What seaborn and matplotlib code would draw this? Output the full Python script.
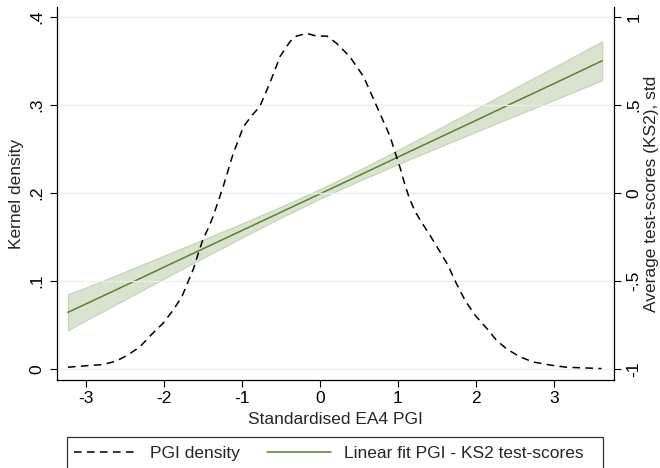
import matplotlib
matplotlib.use("Agg")
import matplotlib.pyplot as plt
from matplotlib.lines import Line2D
from matplotlib.patches import Rectangle
import seaborn as sns

# Kernel density of the standardised EA4 PGI
dens_x = [-3.23, -2.95, -2.78, -2.61, -2.46, -2.31, -2.16, -2.01, -1.88, -1.77,
          -1.69, -1.62, -1.56, -1.50, -1.43, -1.37, -1.24, -1.11, -0.98, -0.88,
          -0.77, -0.64, -0.51, -0.38, -0.30, -0.17, -0.04, 0.09, 0.21, 0.38,
          0.56, 0.73, 0.90, 0.96, 1.03, 1.09, 1.15, 1.22, 1.30, 1.41,
          1.54, 1.64, 1.75, 1.86, 1.99, 2.14, 2.26, 2.39, 2.56, 2.73,
          2.95, 3.16, 3.46, 3.61]
dens_y = [0.002, 0.004, 0.005, 0.009, 0.016, 0.025, 0.039, 0.052, 0.067, 0.082,
          0.099, 0.114, 0.131, 0.147, 0.160, 0.173, 0.207, 0.245, 0.275, 0.287,
          0.298, 0.325, 0.355, 0.372, 0.378, 0.381, 0.378, 0.378, 0.370, 0.355,
          0.332, 0.298, 0.264, 0.247, 0.228, 0.209, 0.193, 0.179, 0.167, 0.152,
          0.133, 0.118, 0.097, 0.078, 0.061, 0.046, 0.033, 0.023, 0.014, 0.008,
          0.0045, 0.002, 0.001, 0.0005]

# Linear fit of KS2 test-scores on the PGI, with 95% confidence band
fit_x = [-3.23, -3.0, -2.5, -2.0, -1.5, -1.0, -0.5, 0.0, 0.5, 1.0, 1.5, 2.0, 2.5, 3.0, 3.62]
fit_y = [-0.678, -0.631, -0.527, -0.422, -0.318, -0.214, -0.110, -0.006, 0.098,
         0.203, 0.307, 0.411, 0.516, 0.620, 0.750]
fit_lo = [-0.780, -0.724, -0.606, -0.487, -0.370, -0.254, -0.141, -0.033, 0.067,
          0.163, 0.255, 0.346, 0.437, 0.527, 0.640]
fit_hi = [-0.576, -0.538, -0.448, -0.357, -0.266, -0.174, -0.079, 0.021, 0.129,
          0.243, 0.359, 0.476, 0.595, 0.713, 0.860]

x_ticks = [-3, -2, -1, 0, 1, 2, 3]
left_ticks = [0, 0.1, 0.2, 0.3, 0.4]
left_labels = ["0", ".1", ".2", ".3", ".4"]
right_ticks = [-1, -0.5, 0, 0.5, 1]
right_labels = ["-1", "-.5", "0", ".5", "1"]

sns.set_style("ticks")
plt.rcParams["font.family"] = ["Liberation Sans", "DejaVu Sans"]
FS = 12.5

GREEN = "#5a8232"
BAND = "#d9e3cf"
BAND_EDGE = "#c3d2b3"
GRID = "#e6eef0"
DASH = (0, (5, 3.5))

W, H = 660, 468
fig = plt.figure(figsize=(W / 100, H / 100), dpi=100)
ax = fig.add_axes([57 / W, 1 - 380 / H, (614 - 57) / W, (380 - 7) / H])
ax2 = ax.twinx()

# fit + band on the secondary axis, drawn underneath
ax2.fill_between(fit_x, fit_lo, fit_hi, facecolor=BAND, edgecolor=BAND_EDGE, linewidth=0.8)
sns.lineplot(x=fit_x, y=fit_y, ax=ax2, color=GREEN, linewidth=1.1)

# density on the primary axis, on top
ax.set_zorder(ax2.get_zorder() + 1)
ax.patch.set_visible(False)
sns.lineplot(x=dens_x, y=dens_y, ax=ax, color="black", linewidth=1.1, linestyle=DASH)

ylo, yhi = -0.0125, 0.411
ax.set_ylim(ylo, yhi)
ax2.set_ylim(5 * ylo - 1, 5 * yhi - 1)
ax.set_xlim(-3.37, 3.77)

ax.set_xticks(x_ticks)
ax.set_xticklabels([str(t) for t in x_ticks])
ax.set_yticks(left_ticks)
ax.set_yticklabels(left_labels, rotation=90, va="center")
ax2.set_yticks(right_ticks)
ax2.set_yticklabels(right_labels, rotation=90, va="center")

for a in (ax, ax2):
    a.tick_params(axis="both", length=5, width=0.8, color="black", labelsize=FS,
                  labelcolor="black", pad=3)
    a.tick_params(axis="y", pad=4)
    a.grid(False)

for t in left_ticks:
    ax.axhline(t, color=GRID, linewidth=0.9, zorder=0)

for a in (ax, ax2):
    a.spines["top"].set_visible(False)
    for s in ("left", "right", "bottom"):
        a.spines[s].set_color("black")
        a.spines[s].set_linewidth(0.9)
ax.spines["right"].set_visible(False)
ax2.spines["left"].set_visible(False)
ax2.spines["bottom"].set_visible(False)

ax.set_xlabel("Standardised EA4 PGI", fontsize=FS, labelpad=4)
ax.set_ylabel("Kernel density", fontsize=FS, labelpad=4)
ax2.set_ylabel("Average test-scores (KS2), std", fontsize=FS, labelpad=2,
               rotation=90, va="bottom")
ax2.yaxis.set_label_position("right")

# legend below the plot, in a plain rectangular frame
handles = [
    Line2D([], [], color="black", linewidth=1.1, linestyle=DASH),
    Line2D([], [], color=GREEN, linewidth=1.1),
]
fig.legend(handles, ["PGI density", "Linear fit PGI - KS2 test-scores"],
           loc="center left", bbox_to_anchor=(74 / W, 1 - 453 / H),
           ncol=2, frameon=False, fontsize=FS,
           handlelength=3.7, handletextpad=0.7, columnspacing=1.55,
           borderpad=0, borderaxespad=0)
fig.patches.append(Rectangle((67 / W, 1 - 470 / H), (603 - 67) / W, (470 - 437) / H,
                             transform=fig.transFigure, facecolor="none",
                             edgecolor="#333333", linewidth=0.9))

fig.savefig("out.png", dpi=100)
